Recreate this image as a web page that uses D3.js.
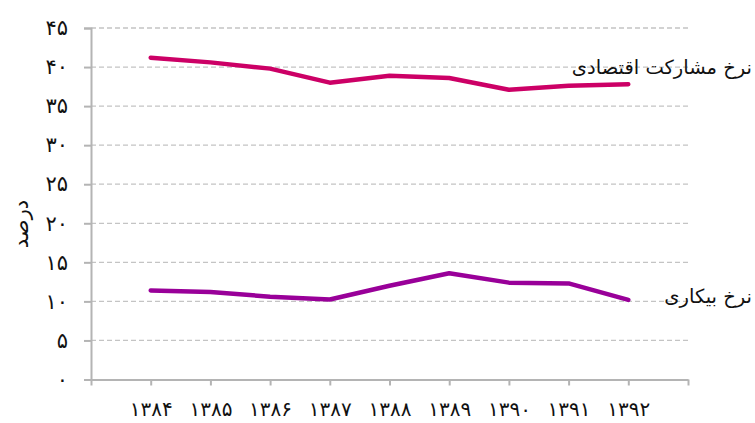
<!DOCTYPE html>
<html>
<head>
  <meta charset="utf-8">
  <title>نرخ مشارکت و بیکاری</title>
  <script src="https://cdn.jsdelivr.net/npm/d3@7"></script>
  <style>
    body { margin: 0; background: #fff; }
    text { font-family: "DejaVu Sans", sans-serif; }
  </style>
</head>
<body>
  <script>
  // sal-ha va meghdar-ha (khandan az tasvir)
  var years = [1384, 1385, 1386, 1387, 1388, 1389, 1390, 1391, 1392];
  var mosharekat = [41.2, 40.6, 39.8, 38.0, 38.9, 38.6, 37.1, 37.6, 37.8];
  var bikari = [11.4, 11.2, 10.6, 10.25, 12.0, 13.6, 12.4, 12.3, 10.2];
  var yTicks = [0, 5, 10, 15, 20, 25, 30, 35, 40, 45];
  var seriesNames = ["نرخ مشارکت اقتصادی", "نرخ بیکاری"];
  var seriesColors = ["#cc0066", "#990099"];

  var breite = 755, hoehe = 423;
  var fa = function(n) {
    return String(n).replace(/[0-9]/g, function(c) { return "۰۱۲۳۴۵۶۷۸۹"[+c]; });
  };

  var svg = d3.select("body").append("svg")
      .attr("width", breite)
      .attr("height", hoehe);

  var x = d3.scaleLinear().domain([1383, 1393]).range([91, 688]);
  var y = d3.scaleLinear().domain([0, 45]).range([379.5, 28]);

  // khotut-e rahnama
  svg.append("g").selectAll("line")
    .data(yTicks.filter(function(d) { return d > 0; }))
    .enter().append("line")
      .attr("x1", x(1383)).attr("x2", x(1393))
      .attr("y1", function(d) { return y(d); })
      .attr("y2", function(d) { return y(d); })
      .attr("stroke", "#c4c4c4")
      .attr("stroke-width", 1.3)
      .attr("stroke-dasharray", "5,3");

  // mehvar-e y
  var yAxis = svg.append("g")
      .attr("transform", "translate(" + x(1383) + ",0)")
      .call(d3.axisLeft(y).tickValues(yTicks).tickSize(7).tickPadding(16)
        .tickFormat(function(d) { return fa(d); }));
  yAxis.select(".domain").attr("stroke", "#b4b4b4").attr("stroke-width", 2);
  yAxis.selectAll(".tick line").attr("stroke", "#b4b4b4").attr("stroke-width", 2);
  yAxis.selectAll(".tick text").attr("font-size", 21).attr("fill", "#111")
      .attr("font-family", "DejaVu Sans");

  // mehvar-e x
  var xAxis = svg.append("g")
      .attr("transform", "translate(0," + y(0) + ")")
      .call(d3.axisBottom(x).tickValues(d3.range(1383, 1394)).tickSize(6).tickSizeOuter(0)
        .tickPadding(16)
        .tickFormat(function(d) { return (d >= 1384 && d <= 1392) ? fa(d) : ""; }));
  xAxis.select(".domain").attr("stroke", "#b4b4b4").attr("stroke-width", 2);
  xAxis.selectAll(".tick line").attr("stroke", "#b4b4b4").attr("stroke-width", 2);
  xAxis.selectAll(".tick text").attr("font-size", 20).attr("fill", "#111")
      .attr("font-family", "DejaVu Sans");

  // onvan-e mehvar-e y
  svg.append("text")
    .attr("transform", "translate(21,224) rotate(-90)")
    .attr("text-anchor", "middle")
    .attr("dy", "0.35em")
    .attr("font-size", 21)
    .attr("fill", "#111")
    .text("درصد");

  // khotut-e dade
  var line = d3.line()
    .x(function(d, i) { return x(years[i]); })
    .y(function(d) { return y(d); });

  [mosharekat, bikari].forEach(function(values, k) {
    svg.append("path")
      .datum(values)
      .attr("d", line)
      .attr("fill", "none")
      .attr("stroke", seriesColors[k])
      .attr("stroke-width", 4.5)
      .attr("stroke-linecap", "round")
      .attr("stroke-linejoin", "round");
  });

  // barchasb-ha
  var labelY = [67, 296];
  seriesNames.forEach(function(name, k) {
    svg.append("text")
      .attr("x", 752)
      .attr("y", labelY[k])
      .attr("dy", "0.35em")
      .attr("direction", "rtl")
      .attr("text-anchor", "start")
      .attr("font-size", 19.5)
      .attr("fill", "#111")
      .text(name);
  });
  </script>
</body>
</html>
